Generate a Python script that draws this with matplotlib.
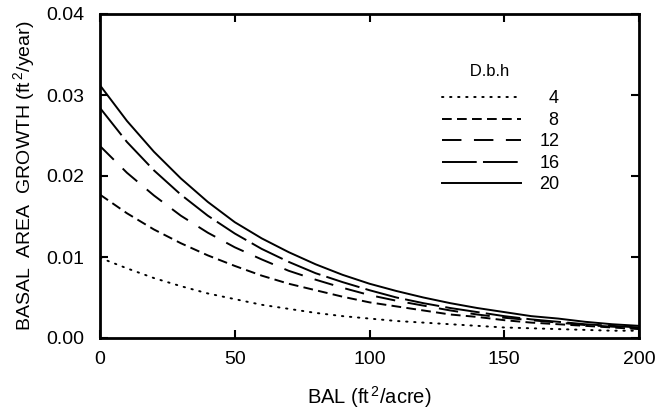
import matplotlib
matplotlib.use("Agg")
import matplotlib.pyplot as plt
from matplotlib.ticker import FormatStrFormatter

plt.rcParams['font.family'] = ['Liberation Sans', 'DejaVu Sans']
plt.rcParams['lines.scale_dashes'] = False
plt.rcParams['mathtext.fontset'] = 'custom'
plt.rcParams['mathtext.rm'] = 'Liberation Sans'

bal = [0, 10, 20, 30, 40, 50, 60, 70, 80, 90, 100,
       110, 120, 130, 140, 150, 160, 170, 180, 190, 200]

g_dbh4 = [0.0099, 0.0086, 0.0074, 0.0064, 0.0055, 0.0048, 0.0041, 0.0036, 0.0031, 0.0027, 0.0024,
          0.0021, 0.0019, 0.0017, 0.0015, 0.0013, 0.0012, 0.0011, 0.0010, 0.0009, 0.0009]
g_dbh8 = [0.0177, 0.0154, 0.0134, 0.0117, 0.0102, 0.0089, 0.0077, 0.0067, 0.0059, 0.0051, 0.0044,
          0.0039, 0.0034, 0.0029, 0.0026, 0.0022, 0.0019, 0.0017, 0.0015, 0.0013, 0.0011]
g_dbh12 = [0.0237, 0.0204, 0.0176, 0.0151, 0.0130, 0.0112, 0.0097, 0.0083, 0.0072, 0.0062, 0.0053,
           0.0046, 0.0040, 0.0034, 0.0029, 0.0025, 0.0022, 0.0019, 0.0016, 0.0014, 0.0012]
g_dbh16 = [0.0284, 0.0242, 0.0207, 0.0177, 0.0151, 0.0129, 0.0110, 0.0094, 0.0080, 0.0069, 0.0059,
           0.0050, 0.0043, 0.0037, 0.0032, 0.0027, 0.0023, 0.0020, 0.0017, 0.0015, 0.0013]
g_dbh20 = [0.0312, 0.0268, 0.0230, 0.0197, 0.0168, 0.0143, 0.0123, 0.0106, 0.0091, 0.0078, 0.0067,
           0.0058, 0.0050, 0.0043, 0.0037, 0.0032, 0.0027, 0.0024, 0.0020, 0.0017, 0.0015]

series = [g_dbh4, g_dbh8, g_dbh12, g_dbh16, g_dbh20]
labels = ["  4", "  8", "12", "16", "20"]
x_ticks = [0, 50, 100, 150, 200]
y_ticks = [0.00, 0.01, 0.02, 0.03, 0.04]

styles = [
    dict(dashes=(1.0, 4.8), dash_capstyle='round'),
    dict(dashes=(7.0, 3.8)),
    dict(dashes=(14.0, 9.0)),
    dict(dashes=(25.0, 4.5)),
    dict(linestyle='-'),
]

fig = plt.figure(figsize=(6.67, 4.09), dpi=100)
ax = fig.add_axes([100/667, 71/409, 539/667, 324/409])

for ys, lab, st in zip(series, labels, styles):
    ax.plot(bal, ys, color='black', lw=1.4, label=lab, **st)

ax.set_xlim(0, 200)
ax.set_ylim(0, 0.04)
ax.set_xticks(x_ticks)
ax.set_yticks(y_ticks)
ax.yaxis.set_major_formatter(FormatStrFormatter('%.2f'))
ax.tick_params(direction='in', length=6, width=1.5, labelsize=14,
               top=True, right=True)
ax.tick_params(axis='x', pad=9)
ax.tick_params(axis='y', pad=11)
for s in ax.spines.values():
    s.set_linewidth(2.0)
    s.set_color('black')

ax.set_xlabel("BAL (ft$^{\\,2}$/acre)", fontsize=14.5, labelpad=12)
ax.set_ylabel("BASAL  AREA  GROWTH (ft$^{\\,2}$/year)", fontsize=14, labelpad=6)

leg = ax.legend(title="      D.b.h", loc='upper left', bbox_to_anchor=(0.634, 0.845),
                frameon=False, fontsize=13, title_fontsize=12, alignment='left',
                handlelength=4.4, handletextpad=1.0, labelspacing=0.25,
                borderpad=0, borderaxespad=0)
leg._legend_box.sep = 8

fig.savefig("out.png", dpi=100)
